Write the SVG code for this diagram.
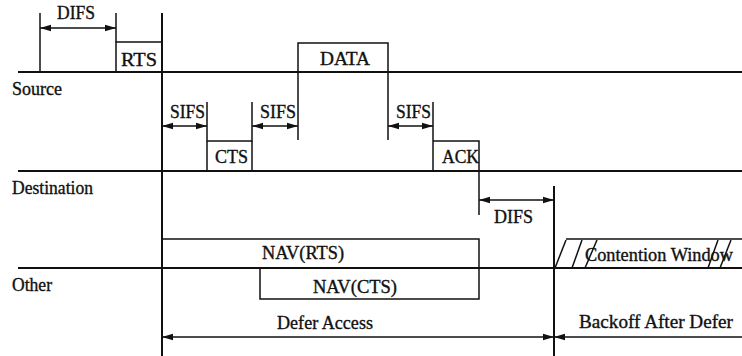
<svg xmlns="http://www.w3.org/2000/svg" width="742" height="356" viewBox="0 0 742 356">
<defs>
<marker id="ah" markerUnits="userSpaceOnUse" markerWidth="12" markerHeight="8" refX="11" refY="4" orient="auto-start-reverse">
<path d="M0,0.8 L11,4 L0,7.2 z" fill="#111"/>
</marker>
<style>
text{font-family:"Liberation Serif","Times New Roman",serif;font-size:18px;fill:#111;stroke:#111;stroke-width:0.35;}
.ln{stroke:#111;stroke-width:2;fill:none;}
.bx{stroke:#111;stroke-width:1.5;fill:none;}
.dim{stroke:#111;stroke-width:1.5;fill:none;marker-start:url(#ah);marker-end:url(#ah);}
.one{stroke:#111;stroke-width:1.5;fill:none;marker-end:url(#ah);}
</style>
</defs>
<rect width="742" height="356" fill="#fff"/>

<g id="timelines">
<line class="ln" x1="18" y1="72" x2="742" y2="72"/>
<line class="ln" x1="18" y1="171" x2="742" y2="171"/>
<line class="ln" x1="18" y1="268" x2="742" y2="268"/>
<line class="ln" x1="162" y1="13" x2="162" y2="356"/>
<line class="ln" x1="554" y1="186" x2="554" y2="356"/>
<text x="12" y="95" textLength="50" lengthAdjust="spacingAndGlyphs">Source</text>
<text x="12" y="194" textLength="81" lengthAdjust="spacingAndGlyphs">Destination</text>
<text x="12" y="291" textLength="40" lengthAdjust="spacingAndGlyphs">Other</text>
</g>

<g id="rts">
<polyline class="bx" points="116,72 116,42 162,42"/>
<text x="121" y="66" textLength="36" lengthAdjust="spacingAndGlyphs">RTS</text>
</g>
<g id="data">
<polyline class="bx" points="298,140 298,43 388,43 388,140"/>
<text x="320" y="65" textLength="50" lengthAdjust="spacingAndGlyphs">DATA</text>
</g>
<g id="cts">
<polyline class="bx" points="207,102 207,141 252,141 252,102"/>
<line class="bx" x1="207" y1="141" x2="207" y2="171"/>
<line class="bx" x1="252" y1="141" x2="252" y2="171"/>
<text x="215" y="163" textLength="33" lengthAdjust="spacingAndGlyphs">CTS</text>
</g>
<g id="ack">
<polyline class="bx" points="433,102 433,171"/>
<polyline class="bx" points="433,141 479,141 479,215"/>
<text x="442" y="163" textLength="37" lengthAdjust="spacingAndGlyphs">ACK</text>
</g>
<g id="nav-rts">
<polyline class="bx" points="162,239 479,239 479,268"/>
<text x="262" y="259" textLength="82" lengthAdjust="spacingAndGlyphs">NAV(RTS)</text>
</g>
<g id="nav-cts">
<polyline class="bx" points="260,268 260,299 479,299 479,268"/>
<text x="313" y="293" textLength="84" lengthAdjust="spacingAndGlyphs">NAV(CTS)</text>
</g>
<g id="contention-window">
<line class="bx" x1="566" y1="239" x2="742" y2="239"/>
<line class="bx" x1="555" y1="268" x2="566" y2="240"/>
<line class="bx" x1="572" y1="268" x2="582" y2="240"/>
<line class="bx" x1="585" y1="268" x2="597" y2="240"/>
<line class="bx" x1="708" y1="268" x2="718" y2="240"/>
<line class="bx" x1="720" y1="268" x2="731" y2="240"/>
<text x="585" y="261" textLength="148" lengthAdjust="spacingAndGlyphs">Contention Window</text>
</g>

<g id="connectors">
<line class="bx" x1="40" y1="13" x2="40" y2="72"/>
<line class="bx" x1="116" y1="13" x2="116" y2="42"/>
<line class="dim" x1="40" y1="28" x2="116" y2="28"/>
<line class="dim" x1="162" y1="126" x2="207" y2="126"/>
<line class="dim" x1="252" y1="126" x2="298" y2="126"/>
<line class="dim" x1="388" y1="126" x2="433" y2="126"/>
<line class="dim" x1="479" y1="200" x2="554" y2="200"/>
<line class="dim" x1="162" y1="337" x2="554" y2="337"/>
<line class="one" x1="742" y1="337" x2="554" y2="337"/>
</g>

<g id="labels">
<text x="57" y="19" textLength="38" lengthAdjust="spacingAndGlyphs">DIFS</text>
<text x="170" y="118" textLength="35" lengthAdjust="spacingAndGlyphs">SIFS</text>
<text x="260" y="118" textLength="36" lengthAdjust="spacingAndGlyphs">SIFS</text>
<text x="396" y="118" textLength="35" lengthAdjust="spacingAndGlyphs">SIFS</text>
<text x="494" y="223" textLength="39" lengthAdjust="spacingAndGlyphs">DIFS</text>
<text x="277" y="329" textLength="96" lengthAdjust="spacingAndGlyphs">Defer Access</text>
<text x="579" y="328" textLength="154" lengthAdjust="spacingAndGlyphs">Backoff After Defer</text>
</g>
</svg>
